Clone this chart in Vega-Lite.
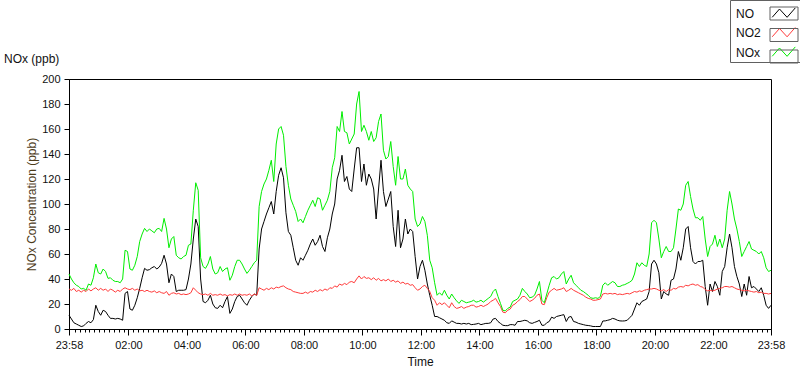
{
"$schema": "https://vega.github.io/schema/vega-lite/v6.json",
"width": 702, "height": 250,
"autosize": {"type": "none"},
"padding": {"left": 69, "top": 79, "right": 29, "bottom": 40},
"background": "#ffffff",
"config": {
  "font": "Liberation Sans",
  "view": {"stroke": "#000000", "strokeWidth": 1},
  "axis": {"domainColor": "#000000", "tickColor": "#000000", "labelColor": "#111111", "labelFont": "Liberation Sans", "labelFontSize": 11, "titleFont": "Liberation Sans", "titleFontSize": 12, "titleFontWeight": "normal", "titleColor": "#111111", "grid": false}
},
"title": {"text": "NOx (ppb)", "anchor": "start", "frame": "group", "offset": 18, "baseline": "alphabetic", "dx": -65, "dy": 93, "fontSize": 12, "fontWeight": "normal", "color": "#111111", "font": "Liberation Sans"},
"data": {"values": [
{"t":"2020-01-01T23:58","NO":11,"NO2":32,"NOx":44},
{"t":"2020-01-02T00:03","NO":8,"NO2":31,"NOx":40},
{"t":"2020-01-02T00:08","NO":5,"NO2":32.5,"NOx":37},
{"t":"2020-01-02T00:13","NO":4,"NO2":30,"NOx":35},
{"t":"2020-01-02T00:18","NO":3,"NO2":31,"NOx":34},
{"t":"2020-01-02T00:23","NO":2,"NO2":29.5,"NOx":32},
{"t":"2020-01-02T00:28","NO":2.5,"NO2":31,"NOx":32.5},
{"t":"2020-01-02T00:33","NO":4.5,"NO2":30,"NOx":31},
{"t":"2020-01-02T00:38","NO":6,"NO2":32,"NOx":36},
{"t":"2020-01-02T00:43","NO":5,"NO2":30.5,"NOx":35},
{"t":"2020-01-02T00:48","NO":7.5,"NO2":32,"NOx":41},
{"t":"2020-01-02T00:53","NO":19,"NO2":33,"NOx":52},
{"t":"2020-01-02T00:58","NO":14,"NO2":31,"NOx":45},
{"t":"2020-01-02T01:03","NO":11,"NO2":32.5,"NOx":44},
{"t":"2020-01-02T01:08","NO":15,"NO2":31,"NOx":48},
{"t":"2020-01-02T01:13","NO":14,"NO2":32,"NOx":46},
{"t":"2020-01-02T01:18","NO":11,"NO2":30,"NOx":40.5},
{"t":"2020-01-02T01:23","NO":8.5,"NO2":32,"NOx":41},
{"t":"2020-01-02T01:28","NO":8.5,"NO2":31,"NOx":39},
{"t":"2020-01-02T01:33","NO":8,"NO2":29.5,"NOx":38},
{"t":"2020-01-02T01:38","NO":8.5,"NO2":31,"NOx":38},
{"t":"2020-01-02T01:43","NO":8,"NO2":30,"NOx":37},
{"t":"2020-01-02T01:48","NO":7,"NO2":32,"NOx":40},
{"t":"2020-01-02T01:53","NO":28.5,"NO2":33,"NOx":63},
{"t":"2020-01-02T01:58","NO":30,"NO2":32,"NOx":62},
{"t":"2020-01-02T02:03","NO":16,"NO2":31.5,"NOx":48},
{"t":"2020-01-02T02:08","NO":15,"NO2":32.5,"NOx":47},
{"t":"2020-01-02T02:13","NO":19,"NO2":31,"NOx":51},
{"t":"2020-01-02T02:18","NO":25,"NO2":32,"NOx":58},
{"t":"2020-01-02T02:23","NO":32.5,"NO2":30.5,"NOx":70},
{"t":"2020-01-02T02:28","NO":41,"NO2":31,"NOx":76},
{"t":"2020-01-02T02:33","NO":48.5,"NO2":30,"NOx":80.5},
{"t":"2020-01-02T02:38","NO":47,"NO2":31,"NOx":78},
{"t":"2020-01-02T02:43","NO":47.5,"NO2":30,"NOx":80},
{"t":"2020-01-02T02:48","NO":49,"NO2":29.5,"NOx":78.5},
{"t":"2020-01-02T02:53","NO":50,"NO2":30.5,"NOx":77},
{"t":"2020-01-02T02:58","NO":48,"NO2":29,"NOx":80},
{"t":"2020-01-02T03:03","NO":49.5,"NO2":30,"NOx":80.5},
{"t":"2020-01-02T03:08","NO":52.5,"NO2":29,"NOx":78},
{"t":"2020-01-02T03:13","NO":59,"NO2":28.5,"NOx":88.5},
{"t":"2020-01-02T03:18","NO":52,"NO2":30,"NOx":80},
{"t":"2020-01-02T03:23","NO":37,"NO2":27,"NOx":65},
{"t":"2020-01-02T03:28","NO":44,"NO2":28.5,"NOx":72},
{"t":"2020-01-02T03:33","NO":42,"NO2":29,"NOx":74},
{"t":"2020-01-02T03:38","NO":30,"NO2":28,"NOx":59},
{"t":"2020-01-02T03:43","NO":31,"NO2":28.5,"NOx":57},
{"t":"2020-01-02T03:48","NO":31,"NO2":27.5,"NOx":56},
{"t":"2020-01-02T03:53","NO":31,"NO2":28,"NOx":58},
{"t":"2020-01-02T03:58","NO":31.5,"NO2":27.5,"NOx":59},
{"t":"2020-01-02T04:03","NO":40,"NO2":28,"NOx":67},
{"t":"2020-01-02T04:08","NO":52,"NO2":29,"NOx":68},
{"t":"2020-01-02T04:13","NO":72,"NO2":33,"NOx":95},
{"t":"2020-01-02T04:18","NO":88,"NO2":31,"NOx":117},
{"t":"2020-01-02T04:23","NO":82,"NO2":29,"NOx":111},
{"t":"2020-01-02T04:28","NO":40,"NO2":28,"NOx":57},
{"t":"2020-01-02T04:33","NO":22,"NO2":27.5,"NOx":50},
{"t":"2020-01-02T04:38","NO":21,"NO2":28,"NOx":48.5},
{"t":"2020-01-02T04:43","NO":23,"NO2":27,"NOx":52},
{"t":"2020-01-02T04:48","NO":27,"NO2":28.5,"NOx":58},
{"t":"2020-01-02T04:53","NO":20,"NO2":27,"NOx":48},
{"t":"2020-01-02T04:58","NO":17,"NO2":27.5,"NOx":44},
{"t":"2020-01-02T05:03","NO":16.5,"NO2":27,"NOx":45},
{"t":"2020-01-02T05:08","NO":19,"NO2":28,"NOx":50},
{"t":"2020-01-02T05:13","NO":17,"NO2":27,"NOx":46},
{"t":"2020-01-02T05:18","NO":22,"NO2":27.5,"NOx":48},
{"t":"2020-01-02T05:23","NO":26,"NO2":26.5,"NOx":49},
{"t":"2020-01-02T05:28","NO":12.5,"NO2":27.5,"NOx":39},
{"t":"2020-01-02T05:33","NO":16,"NO2":27,"NOx":43},
{"t":"2020-01-02T05:38","NO":22,"NO2":28,"NOx":50},
{"t":"2020-01-02T05:43","NO":26,"NO2":27,"NOx":55},
{"t":"2020-01-02T05:48","NO":27,"NO2":28,"NOx":55},
{"t":"2020-01-02T05:53","NO":24,"NO2":27,"NOx":52},
{"t":"2020-01-02T05:58","NO":21,"NO2":27.5,"NOx":48},
{"t":"2020-01-02T06:03","NO":19,"NO2":27,"NOx":44.5},
{"t":"2020-01-02T06:08","NO":23,"NO2":28,"NOx":47},
{"t":"2020-01-02T06:13","NO":26,"NO2":26.5,"NOx":50},
{"t":"2020-01-02T06:18","NO":28,"NO2":28,"NOx":53},
{"t":"2020-01-02T06:23","NO":27,"NO2":27,"NOx":55},
{"t":"2020-01-02T06:28","NO":64,"NO2":33,"NOx":98},
{"t":"2020-01-02T06:33","NO":80,"NO2":32,"NOx":110},
{"t":"2020-01-02T06:38","NO":86,"NO2":31,"NOx":116},
{"t":"2020-01-02T06:43","NO":92,"NO2":32.5,"NOx":120},
{"t":"2020-01-02T06:48","NO":97,"NO2":31.5,"NOx":127},
{"t":"2020-01-02T06:53","NO":102,"NO2":33,"NOx":135},
{"t":"2020-01-02T06:58","NO":92,"NO2":32,"NOx":118},
{"t":"2020-01-02T07:03","NO":110,"NO2":33.5,"NOx":148},
{"t":"2020-01-02T07:08","NO":123,"NO2":33,"NOx":160},
{"t":"2020-01-02T07:13","NO":129,"NO2":34,"NOx":162},
{"t":"2020-01-02T07:18","NO":121,"NO2":34.5,"NOx":155},
{"t":"2020-01-02T07:23","NO":93,"NO2":33,"NOx":130},
{"t":"2020-01-02T07:28","NO":78,"NO2":32,"NOx":115},
{"t":"2020-01-02T07:33","NO":75,"NO2":31.5,"NOx":104},
{"t":"2020-01-02T07:38","NO":65,"NO2":30,"NOx":99},
{"t":"2020-01-02T07:43","NO":55,"NO2":29.5,"NOx":94},
{"t":"2020-01-02T07:48","NO":51,"NO2":29,"NOx":86},
{"t":"2020-01-02T07:53","NO":57,"NO2":28.5,"NOx":88},
{"t":"2020-01-02T07:58","NO":55,"NO2":28.5,"NOx":85},
{"t":"2020-01-02T08:03","NO":59,"NO2":29.5,"NOx":90},
{"t":"2020-01-02T08:08","NO":63,"NO2":28.5,"NOx":95},
{"t":"2020-01-02T08:13","NO":68,"NO2":30,"NOx":99},
{"t":"2020-01-02T08:18","NO":72,"NO2":29.5,"NOx":103},
{"t":"2020-01-02T08:23","NO":67,"NO2":31,"NOx":98},
{"t":"2020-01-02T08:28","NO":70,"NO2":30,"NOx":105},
{"t":"2020-01-02T08:33","NO":75,"NO2":31.5,"NOx":104},
{"t":"2020-01-02T08:38","NO":66,"NO2":30.5,"NOx":95},
{"t":"2020-01-02T08:43","NO":62,"NO2":32,"NOx":99},
{"t":"2020-01-02T08:48","NO":73,"NO2":31,"NOx":103},
{"t":"2020-01-02T08:53","NO":80,"NO2":33,"NOx":110},
{"t":"2020-01-02T08:58","NO":92,"NO2":32.5,"NOx":129},
{"t":"2020-01-02T09:03","NO":100,"NO2":34.5,"NOx":137},
{"t":"2020-01-02T09:08","NO":120,"NO2":33.5,"NOx":162},
{"t":"2020-01-02T09:13","NO":127,"NO2":36,"NOx":158},
{"t":"2020-01-02T09:18","NO":139,"NO2":35,"NOx":174},
{"t":"2020-01-02T09:23","NO":118,"NO2":36.5,"NOx":158},
{"t":"2020-01-02T09:28","NO":122,"NO2":35.5,"NOx":157},
{"t":"2020-01-02T09:33","NO":112,"NO2":37.5,"NOx":148},
{"t":"2020-01-02T09:38","NO":110,"NO2":38,"NOx":152},
{"t":"2020-01-02T09:43","NO":128,"NO2":37,"NOx":156},
{"t":"2020-01-02T09:48","NO":145,"NO2":40,"NOx":180},
{"t":"2020-01-02T09:53","NO":145,"NO2":42.5,"NOx":190},
{"t":"2020-01-02T09:58","NO":118,"NO2":40,"NOx":158},
{"t":"2020-01-02T10:03","NO":132,"NO2":42,"NOx":163},
{"t":"2020-01-02T10:08","NO":115,"NO2":40.5,"NOx":158},
{"t":"2020-01-02T10:13","NO":124,"NO2":41,"NOx":151},
{"t":"2020-01-02T10:18","NO":120,"NO2":39.5,"NOx":158},
{"t":"2020-01-02T10:23","NO":112,"NO2":41,"NOx":150},
{"t":"2020-01-02T10:28","NO":88,"NO2":39,"NOx":153},
{"t":"2020-01-02T10:33","NO":112,"NO2":40.5,"NOx":166},
{"t":"2020-01-02T10:38","NO":135,"NO2":38.5,"NOx":172},
{"t":"2020-01-02T10:43","NO":110,"NO2":39.5,"NOx":143},
{"t":"2020-01-02T10:48","NO":98,"NO2":38.5,"NOx":136},
{"t":"2020-01-02T10:53","NO":104,"NO2":40,"NOx":138},
{"t":"2020-01-02T10:58","NO":110,"NO2":38,"NOx":150},
{"t":"2020-01-02T11:03","NO":82,"NO2":39,"NOx":130},
{"t":"2020-01-02T11:08","NO":66,"NO2":37.5,"NOx":115},
{"t":"2020-01-02T11:13","NO":95,"NO2":38.5,"NOx":138},
{"t":"2020-01-02T11:18","NO":65,"NO2":36.5,"NOx":120},
{"t":"2020-01-02T11:23","NO":72,"NO2":37.5,"NOx":120},
{"t":"2020-01-02T11:28","NO":88,"NO2":36,"NOx":128},
{"t":"2020-01-02T11:33","NO":76,"NO2":36.5,"NOx":115},
{"t":"2020-01-02T11:38","NO":80,"NO2":35,"NOx":112},
{"t":"2020-01-02T11:43","NO":78,"NO2":35.5,"NOx":110},
{"t":"2020-01-02T11:48","NO":58,"NO2":33,"NOx":88},
{"t":"2020-01-02T11:53","NO":40,"NO2":31,"NOx":82},
{"t":"2020-01-02T11:58","NO":50,"NO2":32,"NOx":84},
{"t":"2020-01-02T12:03","NO":55,"NO2":34,"NOx":90},
{"t":"2020-01-02T12:08","NO":47,"NO2":35,"NOx":86},
{"t":"2020-01-02T12:13","NO":36,"NO2":32.5,"NOx":75},
{"t":"2020-01-02T12:18","NO":27,"NO2":30,"NOx":55},
{"t":"2020-01-02T12:23","NO":19,"NO2":25,"NOx":49},
{"t":"2020-01-02T12:28","NO":10,"NO2":23,"NOx":37},
{"t":"2020-01-02T12:33","NO":10,"NO2":19,"NOx":27},
{"t":"2020-01-02T12:38","NO":9,"NO2":21,"NOx":29},
{"t":"2020-01-02T12:43","NO":8,"NO2":19.5,"NOx":27},
{"t":"2020-01-02T12:48","NO":7,"NO2":21,"NOx":31},
{"t":"2020-01-02T12:53","NO":5,"NO2":19,"NOx":27},
{"t":"2020-01-02T12:58","NO":4.5,"NO2":17,"NOx":24},
{"t":"2020-01-02T13:03","NO":6.5,"NO2":21,"NOx":28},
{"t":"2020-01-02T13:08","NO":5.5,"NO2":18,"NOx":25},
{"t":"2020-01-02T13:13","NO":4.5,"NO2":16.5,"NOx":22.5},
{"t":"2020-01-02T13:18","NO":4.5,"NO2":17,"NOx":20.5},
{"t":"2020-01-02T13:23","NO":4,"NO2":18,"NOx":23},
{"t":"2020-01-02T13:28","NO":4.5,"NO2":16.5,"NOx":22},
{"t":"2020-01-02T13:33","NO":4,"NO2":17.5,"NOx":21},
{"t":"2020-01-02T13:38","NO":4.5,"NO2":18,"NOx":21.5},
{"t":"2020-01-02T13:43","NO":3.5,"NO2":19,"NOx":22},
{"t":"2020-01-02T13:48","NO":3.7,"NO2":19,"NOx":23},
{"t":"2020-01-02T13:53","NO":4,"NO2":17.5,"NOx":21.5},
{"t":"2020-01-02T13:58","NO":4.5,"NO2":18,"NOx":22},
{"t":"2020-01-02T14:03","NO":3.5,"NO2":19,"NOx":23},
{"t":"2020-01-02T14:08","NO":4,"NO2":18,"NOx":21.5},
{"t":"2020-01-02T14:13","NO":4.5,"NO2":19,"NOx":23},
{"t":"2020-01-02T14:18","NO":4.5,"NO2":20,"NOx":24.5},
{"t":"2020-01-02T14:23","NO":5,"NO2":22,"NOx":26},
{"t":"2020-01-02T14:28","NO":8,"NO2":23,"NOx":30},
{"t":"2020-01-02T14:33","NO":8.5,"NO2":24.5,"NOx":32},
{"t":"2020-01-02T14:38","NO":6,"NO2":21,"NOx":26},
{"t":"2020-01-02T14:43","NO":4.5,"NO2":18,"NOx":20.5},
{"t":"2020-01-02T14:48","NO":3,"NO2":13.5,"NOx":15},
{"t":"2020-01-02T14:53","NO":2.7,"NO2":13,"NOx":14.5},
{"t":"2020-01-02T14:58","NO":2.7,"NO2":15,"NOx":16.5},
{"t":"2020-01-02T15:03","NO":3.5,"NO2":16,"NOx":17.5},
{"t":"2020-01-02T15:08","NO":3.5,"NO2":19,"NOx":22},
{"t":"2020-01-02T15:13","NO":3,"NO2":20,"NOx":23},
{"t":"2020-01-02T15:18","NO":6,"NO2":22,"NOx":24},
{"t":"2020-01-02T15:23","NO":6,"NO2":23.5,"NOx":27},
{"t":"2020-01-02T15:28","NO":6.5,"NO2":26,"NOx":32.5},
{"t":"2020-01-02T15:33","NO":7,"NO2":26,"NOx":30},
{"t":"2020-01-02T15:38","NO":6.5,"NO2":24,"NOx":28},
{"t":"2020-01-02T15:43","NO":5,"NO2":22,"NOx":25},
{"t":"2020-01-02T15:48","NO":4.5,"NO2":23,"NOx":25.5},
{"t":"2020-01-02T15:53","NO":5.3,"NO2":24.5,"NOx":27},
{"t":"2020-01-02T15:58","NO":6,"NO2":27,"NOx":32},
{"t":"2020-01-02T16:03","NO":7,"NO2":28,"NOx":38},
{"t":"2020-01-02T16:08","NO":3,"NO2":20,"NOx":23},
{"t":"2020-01-02T16:13","NO":3,"NO2":19.5,"NOx":21},
{"t":"2020-01-02T16:18","NO":5,"NO2":25,"NOx":28},
{"t":"2020-01-02T16:23","NO":6,"NO2":29.5,"NOx":35},
{"t":"2020-01-02T16:28","NO":9.5,"NO2":31,"NOx":41},
{"t":"2020-01-02T16:33","NO":8.5,"NO2":32.5,"NOx":42},
{"t":"2020-01-02T16:38","NO":10,"NO2":31,"NOx":40},
{"t":"2020-01-02T16:43","NO":10.5,"NO2":31.5,"NOx":41},
{"t":"2020-01-02T16:48","NO":11,"NO2":32,"NOx":44},
{"t":"2020-01-02T16:53","NO":11.5,"NO2":33,"NOx":46},
{"t":"2020-01-02T16:58","NO":6,"NO2":30,"NOx":36},
{"t":"2020-01-02T17:03","NO":9.5,"NO2":31,"NOx":40},
{"t":"2020-01-02T17:08","NO":10,"NO2":32.5,"NOx":43},
{"t":"2020-01-02T17:13","NO":6,"NO2":31,"NOx":37},
{"t":"2020-01-02T17:18","NO":5.5,"NO2":30,"NOx":35},
{"t":"2020-01-02T17:23","NO":4.5,"NO2":29,"NOx":33},
{"t":"2020-01-02T17:28","NO":4,"NO2":28,"NOx":31},
{"t":"2020-01-02T17:33","NO":3.5,"NO2":27,"NOx":30},
{"t":"2020-01-02T17:38","NO":3,"NO2":25.5,"NOx":28.5},
{"t":"2020-01-02T17:43","NO":2.8,"NO2":24.5,"NOx":27},
{"t":"2020-01-02T17:48","NO":2.5,"NO2":24,"NOx":25},
{"t":"2020-01-02T17:53","NO":2,"NO2":23,"NOx":24.5},
{"t":"2020-01-02T17:58","NO":2,"NO2":23,"NOx":25},
{"t":"2020-01-02T18:03","NO":2,"NO2":23.5,"NOx":24.5},
{"t":"2020-01-02T18:08","NO":2,"NO2":24,"NOx":26},
{"t":"2020-01-02T18:13","NO":6.4,"NO2":28,"NOx":35},
{"t":"2020-01-02T18:18","NO":6.5,"NO2":28.5,"NOx":37},
{"t":"2020-01-02T18:23","NO":7,"NO2":28,"NOx":35},
{"t":"2020-01-02T18:28","NO":7.5,"NO2":28.5,"NOx":36.5},
{"t":"2020-01-02T18:33","NO":8.5,"NO2":28,"NOx":38},
{"t":"2020-01-02T18:38","NO":8,"NO2":28.5,"NOx":37},
{"t":"2020-01-02T18:43","NO":7,"NO2":27.5,"NOx":34},
{"t":"2020-01-02T18:48","NO":6.5,"NO2":28,"NOx":34},
{"t":"2020-01-02T18:53","NO":6.4,"NO2":27.5,"NOx":35},
{"t":"2020-01-02T18:58","NO":6.5,"NO2":28,"NOx":35.5},
{"t":"2020-01-02T19:03","NO":7,"NO2":28.5,"NOx":36.5},
{"t":"2020-01-02T19:08","NO":9,"NO2":28,"NOx":37.5},
{"t":"2020-01-02T19:13","NO":11,"NO2":29,"NOx":39},
{"t":"2020-01-02T19:18","NO":16,"NO2":30,"NOx":44},
{"t":"2020-01-02T19:23","NO":21,"NO2":29.5,"NOx":53},
{"t":"2020-01-02T19:28","NO":19,"NO2":30.5,"NOx":50},
{"t":"2020-01-02T19:33","NO":22,"NO2":30,"NOx":53},
{"t":"2020-01-02T19:38","NO":23,"NO2":31,"NOx":51},
{"t":"2020-01-02T19:43","NO":24,"NO2":31.5,"NOx":50},
{"t":"2020-01-02T19:48","NO":30,"NO2":32,"NOx":60},
{"t":"2020-01-02T19:53","NO":52,"NO2":32,"NOx":85},
{"t":"2020-01-02T19:58","NO":55,"NO2":32.5,"NOx":87},
{"t":"2020-01-02T20:03","NO":52,"NO2":32,"NOx":85},
{"t":"2020-01-02T20:08","NO":45,"NO2":31,"NOx":72},
{"t":"2020-01-02T20:13","NO":24,"NO2":30.5,"NOx":57},
{"t":"2020-01-02T20:18","NO":30,"NO2":31.5,"NOx":62},
{"t":"2020-01-02T20:23","NO":28,"NO2":30,"NOx":66},
{"t":"2020-01-02T20:28","NO":27,"NO2":31.5,"NOx":62},
{"t":"2020-01-02T20:33","NO":39,"NO2":31,"NOx":62},
{"t":"2020-01-02T20:38","NO":40,"NO2":32.5,"NOx":65},
{"t":"2020-01-02T20:43","NO":48,"NO2":32,"NOx":80},
{"t":"2020-01-02T20:48","NO":62,"NO2":33.5,"NOx":96},
{"t":"2020-01-02T20:53","NO":55,"NO2":34,"NOx":95},
{"t":"2020-01-02T20:58","NO":65,"NO2":33.5,"NOx":100},
{"t":"2020-01-02T21:03","NO":80,"NO2":35,"NOx":115},
{"t":"2020-01-02T21:08","NO":82,"NO2":34.5,"NOx":118},
{"t":"2020-01-02T21:13","NO":65,"NO2":35.5,"NOx":106},
{"t":"2020-01-02T21:18","NO":54,"NO2":36,"NOx":96},
{"t":"2020-01-02T21:23","NO":52,"NO2":35,"NOx":89},
{"t":"2020-01-02T21:28","NO":54,"NO2":35.5,"NOx":89},
{"t":"2020-01-02T21:33","NO":54,"NO2":34,"NOx":87},
{"t":"2020-01-02T21:38","NO":55,"NO2":33.5,"NOx":90},
{"t":"2020-01-02T21:43","NO":34,"NO2":31.5,"NOx":72},
{"t":"2020-01-02T21:48","NO":19,"NO2":30.5,"NOx":58},
{"t":"2020-01-02T21:53","NO":36,"NO2":31,"NOx":66},
{"t":"2020-01-02T21:58","NO":30,"NO2":30.5,"NOx":68},
{"t":"2020-01-02T22:03","NO":38,"NO2":31,"NOx":75},
{"t":"2020-01-02T22:08","NO":34,"NO2":32,"NOx":66},
{"t":"2020-01-02T22:13","NO":27,"NO2":32.5,"NOx":72},
{"t":"2020-01-02T22:18","NO":46,"NO2":33,"NOx":65},
{"t":"2020-01-02T22:23","NO":50,"NO2":34,"NOx":72},
{"t":"2020-01-02T22:28","NO":65,"NO2":34,"NOx":95},
{"t":"2020-01-02T22:33","NO":76,"NO2":33.5,"NOx":110},
{"t":"2020-01-02T22:38","NO":65,"NO2":34,"NOx":100},
{"t":"2020-01-02T22:43","NO":50,"NO2":33,"NOx":88},
{"t":"2020-01-02T22:48","NO":42,"NO2":32,"NOx":80},
{"t":"2020-01-02T22:53","NO":36,"NO2":31.5,"NOx":70},
{"t":"2020-01-02T22:58","NO":26,"NO2":31,"NOx":58},
{"t":"2020-01-02T23:03","NO":36,"NO2":30.5,"NOx":62},
{"t":"2020-01-02T23:08","NO":27,"NO2":31,"NOx":66},
{"t":"2020-01-02T23:13","NO":42,"NO2":30.5,"NOx":70},
{"t":"2020-01-02T23:18","NO":33,"NO2":30,"NOx":64},
{"t":"2020-01-02T23:23","NO":34,"NO2":29.5,"NOx":63},
{"t":"2020-01-02T23:28","NO":32,"NO2":30,"NOx":62},
{"t":"2020-01-02T23:33","NO":30,"NO2":29,"NOx":60},
{"t":"2020-01-02T23:38","NO":33,"NO2":29.5,"NOx":62},
{"t":"2020-01-02T23:43","NO":27,"NO2":28.5,"NOx":57},
{"t":"2020-01-02T23:48","NO":19,"NO2":28.5,"NOx":49},
{"t":"2020-01-02T23:53","NO":16.5,"NO2":28,"NOx":46},
{"t":"2020-01-02T23:58","NO":19,"NO2":28.5,"NOx":47}
]},
"layer": [
{
"transform": [{"fold": ["NO", "NO2", "NOx"], "as": ["s", "v"]}],
"mark": {"type": "line", "strokeWidth": 1},
"encoding": {
  "x": {"field": "t", "type": "temporal",
    "scale": {"domain": [{"year": 2020, "month": 1, "date": 1, "hours": 23, "minutes": 58}, {"year": 2020, "month": 1, "date": 2, "hours": 23, "minutes": 58}]},
    "axis": {"values": [
{"year":2020,"month":1,"date":1,"hours":23,"minutes":58},
{"year":2020,"month":1,"date":2,"hours":0,"minutes":10},{"year":2020,"month":1,"date":2,"hours":0,"minutes":20},{"year":2020,"month":1,"date":2,"hours":0,"minutes":30},{"year":2020,"month":1,"date":2,"hours":0,"minutes":40},{"year":2020,"month":1,"date":2,"hours":0,"minutes":50},
{"year":2020,"month":1,"date":2,"hours":1,"minutes":0},{"year":2020,"month":1,"date":2,"hours":1,"minutes":10},{"year":2020,"month":1,"date":2,"hours":1,"minutes":20},{"year":2020,"month":1,"date":2,"hours":1,"minutes":30},{"year":2020,"month":1,"date":2,"hours":1,"minutes":40},{"year":2020,"month":1,"date":2,"hours":1,"minutes":50},
{"year":2020,"month":1,"date":2,"hours":2,"minutes":0},{"year":2020,"month":1,"date":2,"hours":2,"minutes":10},{"year":2020,"month":1,"date":2,"hours":2,"minutes":20},{"year":2020,"month":1,"date":2,"hours":2,"minutes":30},{"year":2020,"month":1,"date":2,"hours":2,"minutes":40},{"year":2020,"month":1,"date":2,"hours":2,"minutes":50},
{"year":2020,"month":1,"date":2,"hours":3,"minutes":0},{"year":2020,"month":1,"date":2,"hours":3,"minutes":10},{"year":2020,"month":1,"date":2,"hours":3,"minutes":20},{"year":2020,"month":1,"date":2,"hours":3,"minutes":30},{"year":2020,"month":1,"date":2,"hours":3,"minutes":40},{"year":2020,"month":1,"date":2,"hours":3,"minutes":50},
{"year":2020,"month":1,"date":2,"hours":4,"minutes":0},{"year":2020,"month":1,"date":2,"hours":4,"minutes":10},{"year":2020,"month":1,"date":2,"hours":4,"minutes":20},{"year":2020,"month":1,"date":2,"hours":4,"minutes":30},{"year":2020,"month":1,"date":2,"hours":4,"minutes":40},{"year":2020,"month":1,"date":2,"hours":4,"minutes":50},
{"year":2020,"month":1,"date":2,"hours":5,"minutes":0},{"year":2020,"month":1,"date":2,"hours":5,"minutes":10},{"year":2020,"month":1,"date":2,"hours":5,"minutes":20},{"year":2020,"month":1,"date":2,"hours":5,"minutes":30},{"year":2020,"month":1,"date":2,"hours":5,"minutes":40},{"year":2020,"month":1,"date":2,"hours":5,"minutes":50},
{"year":2020,"month":1,"date":2,"hours":6,"minutes":0},{"year":2020,"month":1,"date":2,"hours":6,"minutes":10},{"year":2020,"month":1,"date":2,"hours":6,"minutes":20},{"year":2020,"month":1,"date":2,"hours":6,"minutes":30},{"year":2020,"month":1,"date":2,"hours":6,"minutes":40},{"year":2020,"month":1,"date":2,"hours":6,"minutes":50},
{"year":2020,"month":1,"date":2,"hours":7,"minutes":0},{"year":2020,"month":1,"date":2,"hours":7,"minutes":10},{"year":2020,"month":1,"date":2,"hours":7,"minutes":20},{"year":2020,"month":1,"date":2,"hours":7,"minutes":30},{"year":2020,"month":1,"date":2,"hours":7,"minutes":40},{"year":2020,"month":1,"date":2,"hours":7,"minutes":50},
{"year":2020,"month":1,"date":2,"hours":8,"minutes":0},{"year":2020,"month":1,"date":2,"hours":8,"minutes":10},{"year":2020,"month":1,"date":2,"hours":8,"minutes":20},{"year":2020,"month":1,"date":2,"hours":8,"minutes":30},{"year":2020,"month":1,"date":2,"hours":8,"minutes":40},{"year":2020,"month":1,"date":2,"hours":8,"minutes":50},
{"year":2020,"month":1,"date":2,"hours":9,"minutes":0},{"year":2020,"month":1,"date":2,"hours":9,"minutes":10},{"year":2020,"month":1,"date":2,"hours":9,"minutes":20},{"year":2020,"month":1,"date":2,"hours":9,"minutes":30},{"year":2020,"month":1,"date":2,"hours":9,"minutes":40},{"year":2020,"month":1,"date":2,"hours":9,"minutes":50},
{"year":2020,"month":1,"date":2,"hours":10,"minutes":0},{"year":2020,"month":1,"date":2,"hours":10,"minutes":10},{"year":2020,"month":1,"date":2,"hours":10,"minutes":20},{"year":2020,"month":1,"date":2,"hours":10,"minutes":30},{"year":2020,"month":1,"date":2,"hours":10,"minutes":40},{"year":2020,"month":1,"date":2,"hours":10,"minutes":50},
{"year":2020,"month":1,"date":2,"hours":11,"minutes":0},{"year":2020,"month":1,"date":2,"hours":11,"minutes":10},{"year":2020,"month":1,"date":2,"hours":11,"minutes":20},{"year":2020,"month":1,"date":2,"hours":11,"minutes":30},{"year":2020,"month":1,"date":2,"hours":11,"minutes":40},{"year":2020,"month":1,"date":2,"hours":11,"minutes":50},
{"year":2020,"month":1,"date":2,"hours":12,"minutes":0},{"year":2020,"month":1,"date":2,"hours":12,"minutes":10},{"year":2020,"month":1,"date":2,"hours":12,"minutes":20},{"year":2020,"month":1,"date":2,"hours":12,"minutes":30},{"year":2020,"month":1,"date":2,"hours":12,"minutes":40},{"year":2020,"month":1,"date":2,"hours":12,"minutes":50},
{"year":2020,"month":1,"date":2,"hours":13,"minutes":0},{"year":2020,"month":1,"date":2,"hours":13,"minutes":10},{"year":2020,"month":1,"date":2,"hours":13,"minutes":20},{"year":2020,"month":1,"date":2,"hours":13,"minutes":30},{"year":2020,"month":1,"date":2,"hours":13,"minutes":40},{"year":2020,"month":1,"date":2,"hours":13,"minutes":50},
{"year":2020,"month":1,"date":2,"hours":14,"minutes":0},{"year":2020,"month":1,"date":2,"hours":14,"minutes":10},{"year":2020,"month":1,"date":2,"hours":14,"minutes":20},{"year":2020,"month":1,"date":2,"hours":14,"minutes":30},{"year":2020,"month":1,"date":2,"hours":14,"minutes":40},{"year":2020,"month":1,"date":2,"hours":14,"minutes":50},
{"year":2020,"month":1,"date":2,"hours":15,"minutes":0},{"year":2020,"month":1,"date":2,"hours":15,"minutes":10},{"year":2020,"month":1,"date":2,"hours":15,"minutes":20},{"year":2020,"month":1,"date":2,"hours":15,"minutes":30},{"year":2020,"month":1,"date":2,"hours":15,"minutes":40},{"year":2020,"month":1,"date":2,"hours":15,"minutes":50},
{"year":2020,"month":1,"date":2,"hours":16,"minutes":0},{"year":2020,"month":1,"date":2,"hours":16,"minutes":10},{"year":2020,"month":1,"date":2,"hours":16,"minutes":20},{"year":2020,"month":1,"date":2,"hours":16,"minutes":30},{"year":2020,"month":1,"date":2,"hours":16,"minutes":40},{"year":2020,"month":1,"date":2,"hours":16,"minutes":50},
{"year":2020,"month":1,"date":2,"hours":17,"minutes":0},{"year":2020,"month":1,"date":2,"hours":17,"minutes":10},{"year":2020,"month":1,"date":2,"hours":17,"minutes":20},{"year":2020,"month":1,"date":2,"hours":17,"minutes":30},{"year":2020,"month":1,"date":2,"hours":17,"minutes":40},{"year":2020,"month":1,"date":2,"hours":17,"minutes":50},
{"year":2020,"month":1,"date":2,"hours":18,"minutes":0},{"year":2020,"month":1,"date":2,"hours":18,"minutes":10},{"year":2020,"month":1,"date":2,"hours":18,"minutes":20},{"year":2020,"month":1,"date":2,"hours":18,"minutes":30},{"year":2020,"month":1,"date":2,"hours":18,"minutes":40},{"year":2020,"month":1,"date":2,"hours":18,"minutes":50},
{"year":2020,"month":1,"date":2,"hours":19,"minutes":0},{"year":2020,"month":1,"date":2,"hours":19,"minutes":10},{"year":2020,"month":1,"date":2,"hours":19,"minutes":20},{"year":2020,"month":1,"date":2,"hours":19,"minutes":30},{"year":2020,"month":1,"date":2,"hours":19,"minutes":40},{"year":2020,"month":1,"date":2,"hours":19,"minutes":50},
{"year":2020,"month":1,"date":2,"hours":20,"minutes":0},{"year":2020,"month":1,"date":2,"hours":20,"minutes":10},{"year":2020,"month":1,"date":2,"hours":20,"minutes":20},{"year":2020,"month":1,"date":2,"hours":20,"minutes":30},{"year":2020,"month":1,"date":2,"hours":20,"minutes":40},{"year":2020,"month":1,"date":2,"hours":20,"minutes":50},
{"year":2020,"month":1,"date":2,"hours":21,"minutes":0},{"year":2020,"month":1,"date":2,"hours":21,"minutes":10},{"year":2020,"month":1,"date":2,"hours":21,"minutes":20},{"year":2020,"month":1,"date":2,"hours":21,"minutes":30},{"year":2020,"month":1,"date":2,"hours":21,"minutes":40},{"year":2020,"month":1,"date":2,"hours":21,"minutes":50},
{"year":2020,"month":1,"date":2,"hours":22,"minutes":0},{"year":2020,"month":1,"date":2,"hours":22,"minutes":10},{"year":2020,"month":1,"date":2,"hours":22,"minutes":20},{"year":2020,"month":1,"date":2,"hours":22,"minutes":30},{"year":2020,"month":1,"date":2,"hours":22,"minutes":40},{"year":2020,"month":1,"date":2,"hours":22,"minutes":50},
{"year":2020,"month":1,"date":2,"hours":23,"minutes":0},{"year":2020,"month":1,"date":2,"hours":23,"minutes":10},{"year":2020,"month":1,"date":2,"hours":23,"minutes":20},{"year":2020,"month":1,"date":2,"hours":23,"minutes":30},{"year":2020,"month":1,"date":2,"hours":23,"minutes":40},{"year":2020,"month":1,"date":2,"hours":23,"minutes":50},
{"year":2020,"month":1,"date":2,"hours":23,"minutes":58}],
      "format": "%H:%M",
      "labelExpr": "(minutes(datum.value) == 58 || (minutes(datum.value) == 0 && hours(datum.value) % 2 == 0)) ? datum.label : ''",
      "tickSize": {"condition": {"test": "minutes(datum.value) == 58 || (minutes(datum.value) == 0 && hours(datum.value) % 2 == 0)", "value": 6}, "value": 3},
      "labelPadding": 4, "labelFlush": false, "labelOverlap": false,
      "title": "Time", "titleY": 36, "titleBaseline": "alphabetic"}},
  "y": {"field": "v", "type": "quantitative",
    "scale": {"domain": [0, 200], "nice": false},
    "axis": {"values": [0, 20, 40, 60, 80, 100, 120, 140, 160, 180, 200], "tickSize": 5, "labelPadding": 4, "labelOverlap": false,
      "title": "NOx Concentration (ppb)", "titleColor": "#4d3b1a", "titleX": -38, "titleBaseline": "middle"}},
  "color": {"field": "s", "type": "nominal",
    "scale": {"domain": ["NO", "NO2", "NOx"], "range": ["#000000", "#ff3a3a", "#00ee00"]},
    "legend": {"orient": "none", "legendX": 661, "legendY": -79, "title": null, "padding": 3,
      "strokeColor": "#606060", "fillColor": "#ffffff", "rowPadding": 2.5,
      "symbolSize": 400, "symbolType": "M-1.18,0.38L-0.45,-0.45L0.31,0.38L1.13,-0.56",
      "symbolStrokeWidth": 1, "symbolFillColor": "transparent",
      "labelOffset": -58.5, "symbolOffset": 40.5, "labelFont": "Liberation Sans", "labelFontSize": 12, "labelColor": "#111111"}}
}
},
{
"transform": [{"fold": ["NO", "NO2", "NOx"], "as": ["s3", "v"]}],
"mark": {"type": "point", "opacity": 0, "color": "#606060", "filled": false},
"encoding": {
  "shape": {"field": "s3", "type": "nominal",
    "scale": {"range": ["M-1.4,-0.65H1.4V0.65H-1.4Z", "M-1.4,-0.65H1.4V0.65H-1.4Z", "M-1.4,-0.65H1.4V0.65H-1.4Z"]},
    "legend": {"orient": "none", "legendX": 661, "legendY": -79, "title": null, "padding": 3,
      "rowPadding": 2.5, "symbolSize": 400,
      "symbolStrokeWidth": 1, "symbolFillColor": "transparent", "symbolStrokeColor": "#606060", "symbolOpacity": 1,
      "labelOffset": -58.5, "symbolOffset": 40.5, "labelFont": "Liberation Sans", "labelFontSize": 12, "labelExpr": "''"}}
}
}
]
}
